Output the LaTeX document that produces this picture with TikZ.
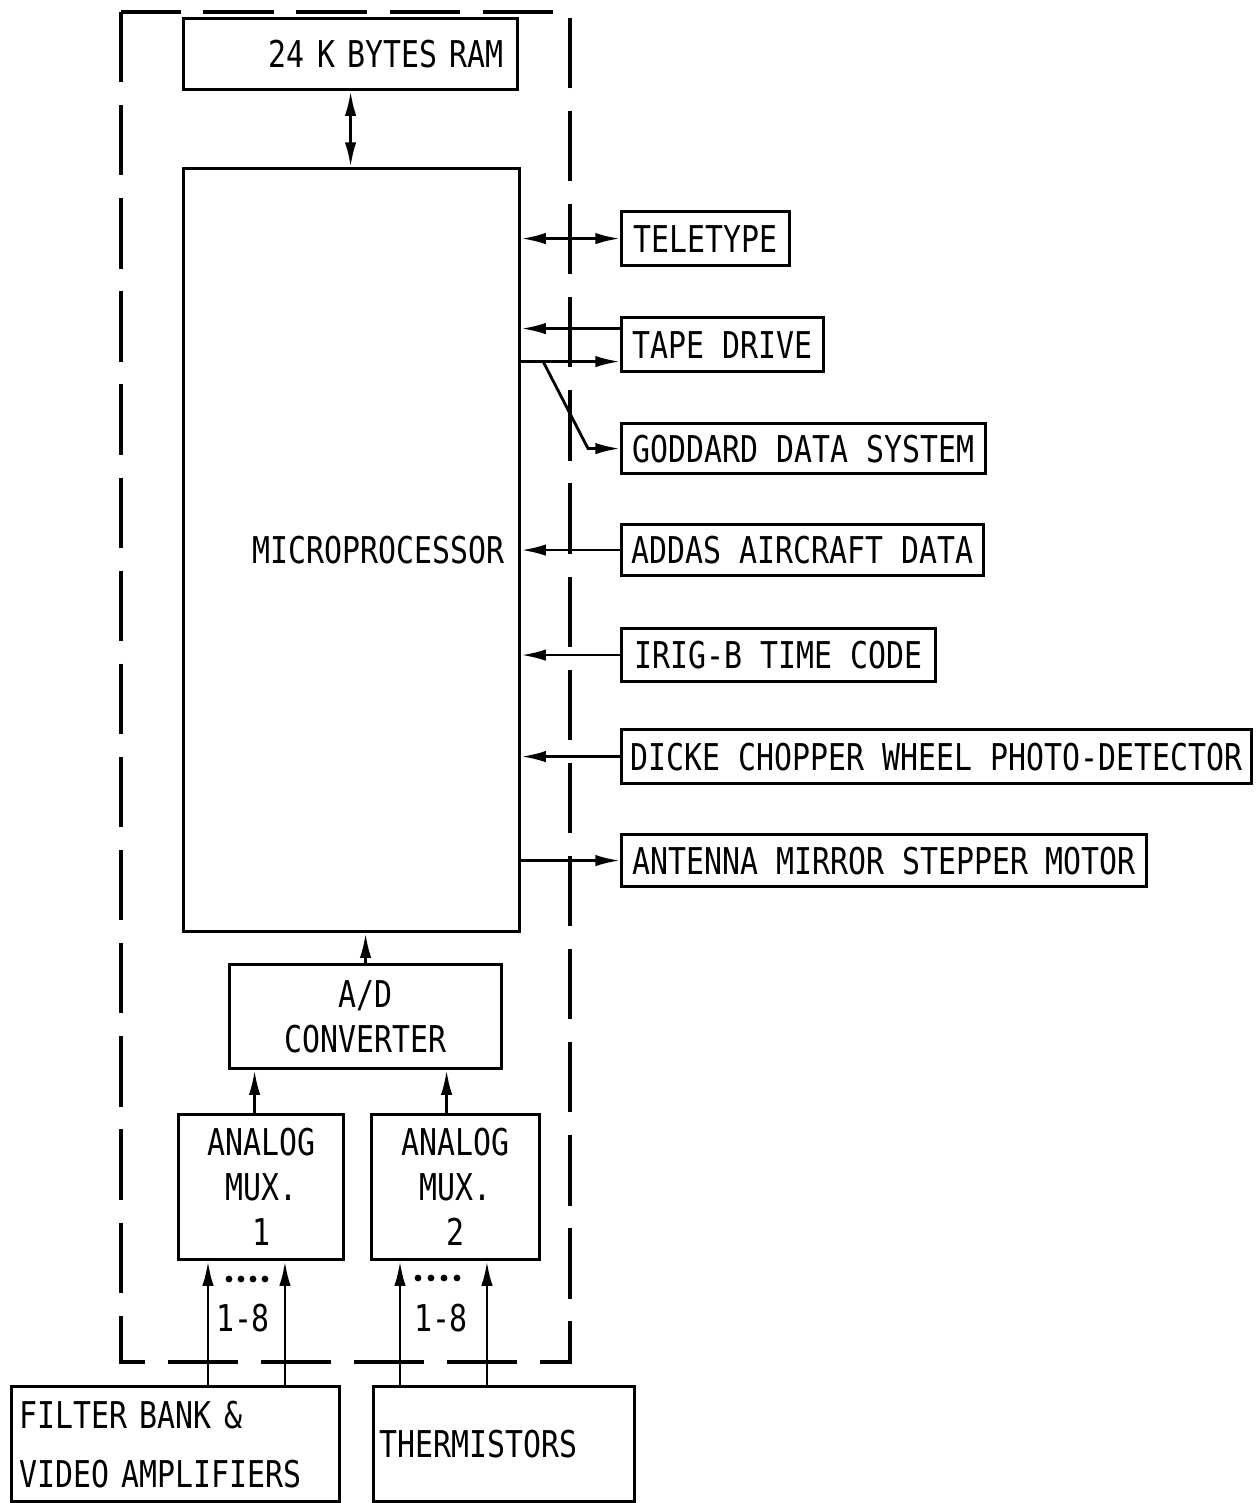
\documentclass[tikz,border=0pt]{standalone}
\usepackage{fontspec}
\newfontfamily\twfont[FakeStretch=0.81]{DejaVu Sans Mono}
\usetikzlibrary{arrows.meta}
\begin{document}
\begin{tikzpicture}[x=0.02cm,y=-0.02cm,
  box/.style={draw,line width=1.8pt,anchor=north west,inner sep=0pt,
    font=\twfont\fontsize{21pt}{25.6pt}\selectfont},
  conn/.style={line width=1.6pt},
  tip/.style={-{Latex[length=14pt,width=6.5pt]}},
  dtip/.style={{Latex[length=14pt,width=6.5pt]}-{Latex[length=14pt,width=6.5pt]}},
  lbl/.style={inner sep=0pt,font=\twfont\fontsize{21pt}{25.6pt}\selectfont},
  outline/.style={line width=1.8pt,dash pattern=on 40pt off 13pt}]
\useasboundingbox (0,0) rectangle (1257,1503);
\fill[white] (0,0) rectangle (1257,1503);
% enclosing dashed boundary
\draw[outline] (121,12) rectangle (570,1362);
% boxes
\node[box,minimum width=334*0.02cm,minimum height=71*0.02cm,text width=306*0.02cm,align=right] (ram) at (182,17) {24 K BYTES RAM};
\node[box,minimum width=336*0.02cm,minimum height=763*0.02cm,text width=306*0.02cm,align=right] (mp) at (182,167) {MICROPROCESSOR};
\node[box,minimum width=168*0.02cm,minimum height=54*0.02cm] (tel) at (620,210) {TELETYPE};
\node[box,minimum width=202*0.02cm,minimum height=54*0.02cm] (tape) at (620,316) {TAPE DRIVE};
\node[box,minimum width=364*0.02cm,minimum height=50*0.02cm] (god) at (620,422) {GODDARD DATA SYSTEM};
\node[box,minimum width=362*0.02cm,minimum height=51*0.02cm] (addas) at (620,523) {ADDAS AIRCRAFT DATA};
\node[box,minimum width=314*0.02cm,minimum height=53*0.02cm] (irig) at (620,627) {IRIG-B TIME CODE};
\node[box,minimum width=630*0.02cm,minimum height=54*0.02cm] (dicke) at (620,728) {DICKE CHOPPER WHEEL PHOTO-DETECTOR};
\node[box,minimum width=525*0.02cm,minimum height=52*0.02cm] (ant) at (620,833) {ANTENNA MIRROR STEPPER MOTOR};
\node[box,minimum width=272*0.02cm,minimum height=104*0.02cm,align=center] (ad) at (228,963) {A/D\\CONVERTER};
\node[box,minimum width=165*0.02cm,minimum height=145*0.02cm,align=center] (mux1) at (177,1113) {ANALOG\\MUX.\\1};
\node[box,minimum width=168*0.02cm,minimum height=145*0.02cm,align=center] (mux2) at (370,1113) {ANALOG\\MUX.\\2};
\node[box,minimum width=328*0.02cm,minimum height=115*0.02cm,text width=312*0.02cm,align=left,
  font=\twfont\fontsize{21pt}{33.6pt}\selectfont] (fb) at (10,1385) {FILTER BANK \&\\VIDEO AMPLIFIERS};
\node[box,minimum width=261*0.02cm,minimum height=115*0.02cm,text width=249*0.02cm,align=left] (th) at (372,1385) {THERMISTORS};
% connectors: memory and microprocessor
\draw[conn,dtip] (ram.south) -- (ram.south |- mp.north);
% peripherals
\draw[conn,dtip] (mp.east |- tel.west) -- (tel.west);
\coordinate (tdin) at ([yshift=0.32cm]tape.west);
\coordinate (tdout) at ([yshift=-0.34cm]tape.west);
\draw[conn,tip] (tdin) -- (mp.east |- tdin);
\draw[conn,tip] (mp.east |- tdout) -- (tdout);
\coordinate (br) at ([xshift=0.44cm]mp.east |- tdout);
\draw[conn,tip] (br) -- ([xshift=-0.64cm]god.west) -- (god.west);
\draw[conn,tip] (addas.west) -- (mp.east |- addas.west);
\draw[conn,tip] (irig.west) -- (mp.east |- irig.west);
\draw[conn,tip] (dicke.west) -- (mp.east |- dicke.west);
\draw[conn,tip] (mp.east |- ant.west) -- (ant.west);
% conversion chain
\draw[conn,tip] (ad.north) -- (ad.north |- mp.south);
\draw[conn,tip] ([xshift=-0.13cm]mux1.north) -- ([xshift=-0.13cm]mux1.north |- ad.south);
\draw[conn,tip] ([xshift=-0.18cm]mux2.north) -- ([xshift=-0.18cm]mux2.north |- ad.south);
% inputs
\coordinate (i1a) at ([xshift=0.62cm]mux1.south west);
\coordinate (i1b) at ([xshift=2.16cm]mux1.south west);
\coordinate (i2a) at ([xshift=0.60cm]mux2.south west);
\coordinate (i2b) at ([xshift=2.34cm]mux2.south west);
\draw[conn,tip] (i1a |- fb.north) -- (i1a);
\draw[conn,tip] (i1b |- fb.north) -- (i1b);
\draw[conn,tip] (i2a |- th.north) -- (i2a);
\draw[conn,tip] (i2b |- th.north) -- (i2b);
\foreach \x in {229,241,253,265} \fill (\x,1279) circle (3.4);
\foreach \x in {418,431,444,457} \fill (\x,1278) circle (3.4);
\node[lbl] (n1) at (243,1318) {1-8};
\node[lbl] (n2) at (441,1318) {1-8};
\end{tikzpicture}
\end{document}
